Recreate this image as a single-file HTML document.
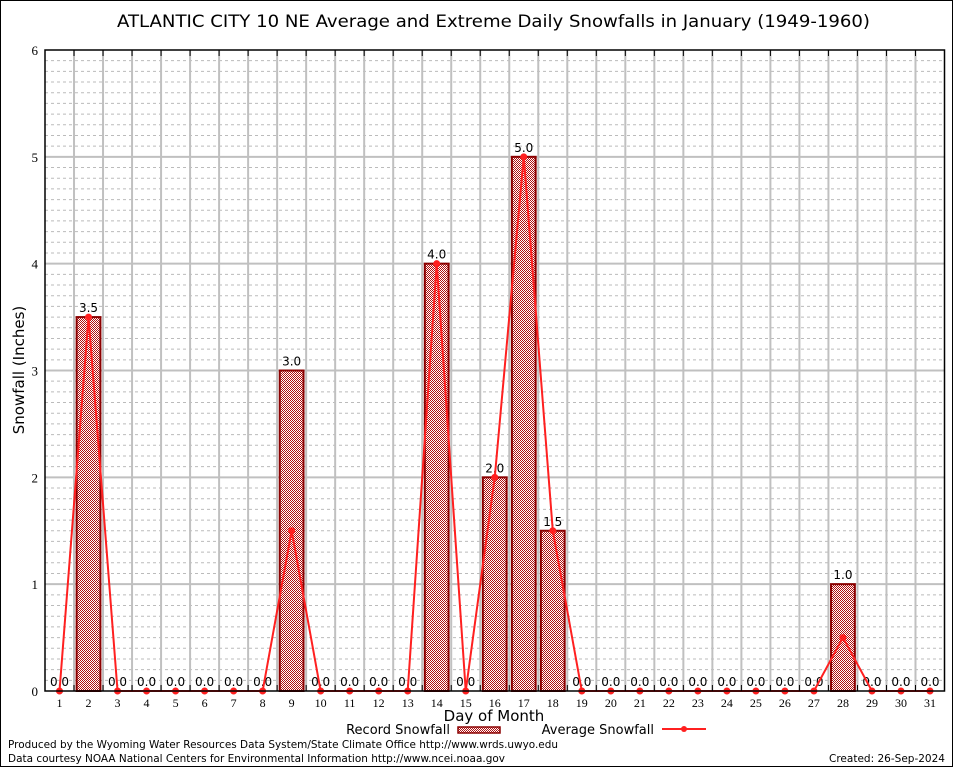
<!DOCTYPE html>
<html><head><meta charset="utf-8"><style>
body{margin:0;background:#fff;}
svg{display:block;font-family:"DejaVu Sans","Liberation Sans",sans-serif;}
</style></head><body>
<svg id="chart" width="954" height="768" viewBox="0 0 954 768" xmlns="http://www.w3.org/2000/svg">
<defs>
<pattern id="chk" width="2" height="2" patternUnits="userSpaceOnUse">
<rect width="2" height="2" fill="#fff"/><rect width="1" height="1" fill="#b01010"/><rect x="1" y="1" width="1" height="1" fill="#b01010"/>
</pattern>
</defs>
<rect x="0.5" y="0.5" width="952" height="766" fill="#fff" stroke="#000"/>
<text x="117" y="27" font-size="17" textLength="753" lengthAdjust="spacingAndGlyphs">ATLANTIC CITY 10 NE Average and Extreme Daily Snowfalls in January (1949-1960)</text>
<g id="grid"></g>
<g id="bars"></g>
<g id="line"></g>
<g id="axes"></g>
<text x="24" y="370" font-size="15" text-anchor="middle" transform="rotate(-90 24 370)">Snowfall (Inches)</text>
<text x="494" y="721" font-size="15" text-anchor="middle">Day of Month</text>
<g>
<text x="450" y="734" font-size="13" text-anchor="end">Record Snowfall</text>
<rect x="458" y="727" width="42" height="6" fill="url(#chk)" stroke="#8b0000" stroke-width="1.5"/>
<text x="654" y="734" font-size="13" text-anchor="end">Average Snowfall</text>
<line x1="662" y1="729" x2="706" y2="729" stroke="#ff2020" stroke-width="2"/>
<circle cx="684" cy="729" r="3" fill="#ff2020"/>
</g>
<text x="8" y="748" font-size="11" textLength="550" lengthAdjust="spacingAndGlyphs">Produced by the Wyoming Water Resources Data System/State Climate Office http://www.wrds.uwyo.edu</text>
<text x="8" y="762" font-size="11" textLength="497" lengthAdjust="spacingAndGlyphs">Data courtesy NOAA National Centers for Environmental Information http://www.ncei.noaa.gov</text>
<text x="829" y="762" font-size="11" textLength="116" lengthAdjust="spacingAndGlyphs">Created:  26-Sep-2024</text>
</svg>
<script>
const days=[1,2,3,4,5,6,7,8,9,10,11,12,13,14,15,16,17,18,19,20,21,22,23,24,25,26,27,28,29,30,31];
const recordSnow=[0,3.5,0,0,0,0,0,0,3.0,0,0,0,0,4.0,0,2.0,5.0,1.5,0,0,0,0,0,0,0,0,0,1.0,0,0,0];
const avgSnow=[0,3.5,0,0,0,0,0,0,1.5,0,0,0,0,4.0,0,2.0,5.0,1.5,0,0,0,0,0,0,0,0,0,0.5,0,0,0];
const yTicks=[0,1,2,3,4,5,6];
const L=45,R=944.5,T=50,B=691,yMax=6;
const xs=d=>L+(d-0.5)*(R-L)/31;
const ys=v=>B-v*(B-T)/yMax;
const NS="http://www.w3.org/2000/svg";
function mk(p,tag,a){const e=document.createElementNS(NS,tag);for(const k in a)e.setAttribute(k,a[k]);p.appendChild(e);return e;}
const grid=document.getElementById('grid'),bars=document.getElementById('bars'),line=document.getElementById('line'),axes=document.getElementById('axes');
for(let i=1;i<yMax*10;i++){if(i%10===0)continue;const y=ys(i/10);
const g=mk(grid,'line',{x1:L,x2:R,y1:y,y2:y,stroke:'#bbb','stroke-dasharray':'3,3'});

}
for(let d=1;d<31;d++){const x=xs(d+0.5);
const g=mk(grid,'line',{x1:x,x2:x,y1:T,y2:B,stroke:'#c0c0c0','stroke-width':2});


mk(axes,'line',{x1:x,x2:x,y1:T,y2:T+6,stroke:'#000'});mk(axes,'line',{x1:x,x2:x,y1:B,y2:B-6,stroke:'#000'});}
yTicks.forEach(t=>{const y=ys(t);
if(t>0&&t<yMax){const g=mk(grid,'line',{x1:L,x2:R,y1:y,y2:y,stroke:'#c0c0c0','stroke-width':2});

}
const tx=mk(axes,'text',{x:L-7,y:y+5,'font-size':13,'text-anchor':'end','font-family':'Liberation Serif, serif'});tx.textContent=t;

});
const w=(R-L)/31*0.82;
days.forEach((d,i)=>{const v=recordSnow[i];const x=xs(d);
if(v>0){const r=mk(bars,'rect',{x:x-w/2,y:ys(v),width:w,height:B-ys(v),fill:'url(#chk)',stroke:'#8b0000','stroke-width':2});

}
const lb=mk(bars,'text',{x:x,y:ys(v)-5,'font-size':12,'text-anchor':'middle'});lb.textContent=v.toFixed(1);


const tl=mk(axes,'text',{x:x,y:B+16,'font-size':12,'text-anchor':'middle','font-family':'Liberation Serif, serif'});tl.textContent=d;

});
const pts=days.map((d,i)=>xs(d)+','+ys(avgSnow[i])).join(' ');
const pl=mk(line,'polyline',{points:pts,fill:'none',stroke:'#ff2020','stroke-width':2});


days.forEach((d,i)=>{const c=mk(line,'circle',{cx:xs(d),cy:ys(avgSnow[i]),r:3.5,fill:'#ff2020'});

});
const fr=mk(axes,'rect',{x:L,y:T,width:R-L,height:B-T,fill:'none',stroke:'#000','stroke-width':1.5});


</script>
</body></html>
